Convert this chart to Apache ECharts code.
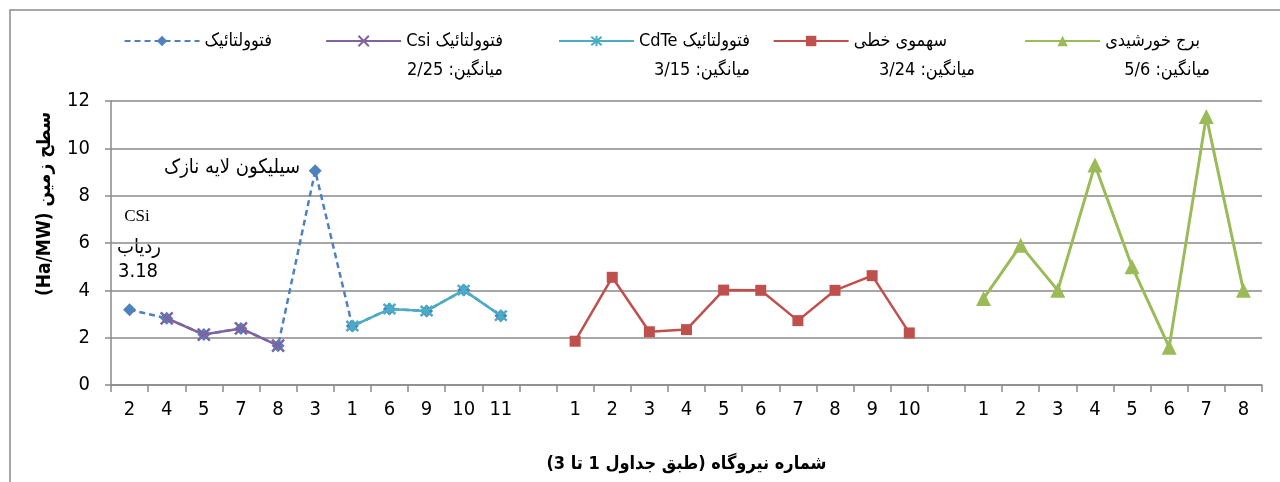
<!DOCTYPE html>
<html>
<head>
<meta charset="utf-8">
<script src="https://cdn.jsdelivr.net/npm/echarts@6/dist/echarts.min.js"></script>
<style>
  html, body { margin: 0; padding: 0; background: #fff; }
  #main { width: 1280px; height: 482px; }
</style>
</head>
<body>
<div id="main"></div>
<script>
// گروه‌ها روی محور افقی (با یک خانه خالی بین هر گروه)
const pvCats = ['2', '4', '5', '7', '8', '3', '1', '6', '9', '10', '11'];
const troughCats = ['1', '2', '3', '4', '5', '6', '7', '8', '9', '10'];
const towerCats = ['1', '2', '3', '4', '5', '6', '7', '8'];

// مقادیر سطح زمین (Ha/MW)
const pvAll = [3.18, 2.82, 2.13, 2.39, 1.66, 9.05, 2.49, 3.21, 3.13, 4.01, 2.93];
const pvCSi = [2.82, 2.13, 2.39, 1.66];      // نیروگاه‌های 4، 5، 7، 8
const pvCdTe = [2.49, 3.21, 3.13, 4.01, 2.93]; // نیروگاه‌های 1، 6، 9، 10، 11
const trough = [1.85, 4.55, 2.25, 2.34, 4.01, 4.0, 2.72, 4.0, 4.62, 2.2];
const tower = [3.65, 5.9, 4.0, 9.3, 5.0, 1.6, 11.35, 4.0];

const seriesNames = [
  'فتوولتائیک',
  'فتوولتائیک Csi',
  'فتوولتائیک CdTe',
  'سهموی خطی',
  'برج خورشیدی'
];
const means = ['2/25', '3/15', '3/24', '5/6'];

const colors = ['#4F81BD', '#8064A2', '#4BACC6', '#C0504D', '#9BBB59'];
const persianFont = '"DejaVu Sans Condensed", "DejaVu Sans", sans-serif';
const numFont = '"DejaVu Sans Condensed", "DejaVu Sans", sans-serif';

// متن راست‌به‌چپ
const rtl = (s) => '\u202B' + s + '\u202C';

const categories = [...pvCats, '', ...troughCats, '', ...towerCats];
const N = categories.length;
const troughStart = pvCats.length + 1;
const towerStart = troughStart + troughCats.length + 1;

// قرار دادن مقادیر در جای خودشان روی محور
function place(values, start) {
  const out = new Array(N).fill(null);
  values.forEach((v, i) => { out[start + i] = v; });
  return out;
}

const xPath = 'path://M0,0L10,10M10,0L0,10';
const starPath = 'path://M0,0L10,10M10,0L0,10M5,-1L5,11';

const myChart = echarts.init(document.getElementById('main'));

const legendRights = [1003, 772, 525, 328, 75];
const legends = seriesNames.map((name, i) => ({
  data: [name],
  right: legendRights[i],
  top: 27,
  itemWidth: 75,
  itemHeight: 13,
  align: 'left',
  formatter: (n) => rtl(n),
  textStyle: { fontFamily: persianFont, fontSize: 18, color: '#000' }
}));

const meanRights = [777, 530, 305, 70];

myChart.setOption({
  animation: false,
  backgroundColor: '#fff',
  legend: legends,
  grid: { left: 111, right: 18, top: 101, bottom: 97 },
  xAxis: {
    type: 'category',
    data: categories,
    boundaryGap: true,
    name: rtl('شماره نیروگاه (طبق جداول 1 تا 3)'),
    nameLocation: 'middle',
    nameGap: 70,
    nameTextStyle: { fontFamily: persianFont, fontSize: 18, fontWeight: 'bold', color: '#000' },
    axisLine: { lineStyle: { color: '#8a8a8a', width: 1.5 } },
    axisTick: { show: true, interval: 0, length: 7, lineStyle: { color: '#8a8a8a', width: 1.5 } },
    axisLabel: { interval: 0, margin: 15, fontFamily: numFont, fontSize: 20, color: '#000' }
  },
  yAxis: {
    type: 'value',
    min: 0,
    max: 12,
    interval: 2,
    axisLine: { show: true, lineStyle: { color: '#8a8a8a', width: 1.5 } },
    axisTick: { show: true, length: 6, lineStyle: { color: '#8a8a8a', width: 1.5 } },
    axisLabel: { margin: 21, fontFamily: numFont, fontSize: 20, color: '#000' },
    splitLine: { lineStyle: { color: '#8a8a8a', width: 1.5 } }
  },
  series: [
    {
      name: seriesNames[0],
      type: 'line',
      data: place(pvAll, 0),
      z: 2,
      symbol: 'diamond',
      symbolSize: 13,
      color: colors[0],
      lineStyle: { color: colors[0], width: 2.5, type: [6, 4] },
      itemStyle: { color: colors[0] }
    },
    {
      name: seriesNames[1],
      type: 'line',
      data: place(pvCSi, 1),
      z: 3,
      symbol: xPath,
      symbolSize: 12,
      color: colors[1],
      lineStyle: { color: colors[1], width: 2.5 },
      itemStyle: { color: colors[1], borderColor: colors[1], borderWidth: 2.5 }
    },
    {
      name: seriesNames[2],
      type: 'line',
      data: place(pvCdTe, 6),
      z: 3,
      symbol: starPath,
      symbolSize: 12,
      color: colors[2],
      lineStyle: { color: colors[2], width: 2.5 },
      itemStyle: { color: colors[2], borderColor: colors[2], borderWidth: 2.5 }
    },
    {
      name: seriesNames[3],
      type: 'line',
      data: place(trough, troughStart),
      z: 3,
      symbol: 'rect',
      symbolSize: 11,
      color: colors[3],
      lineStyle: { color: colors[3], width: 2.5 },
      itemStyle: { color: colors[3] }
    },
    {
      name: seriesNames[4],
      type: 'line',
      data: place(tower, towerStart),
      z: 3,
      symbol: 'triangle',
      symbolSize: 15,
      color: colors[4],
      lineStyle: { color: colors[4], width: 3 },
      itemStyle: { color: colors[4] }
    }
  ],
  graphic: [
    {
      type: 'rect',
      shape: { x: 10, y: 10, width: 1300, height: 500 },
      style: { fill: 'none', stroke: '#8a8a8a', lineWidth: 1.5 },
      silent: true
    },
    ...means.map((m, i) => ({
      type: 'text',
      right: meanRights[i],
      top: 61,
      style: { text: rtl('میانگین: ' + m), font: '18px ' + persianFont, fill: '#000' }
    })),
    {
      type: 'text',
      x: 45, y: 204,
      rotation: Math.PI / 2,
      style: { text: rtl('سطح زمین (Ha/MW)'), font: 'bold 19px ' + persianFont, fill: '#000', align: 'center', verticalAlign: 'middle' }
    },
    {
      type: 'text',
      x: 300, y: 168,
      style: { text: 'سیلیکون لایه نازک', font: '20px ' + persianFont, fill: '#000', align: 'right', verticalAlign: 'middle' }
    },
    {
      type: 'text',
      x: 137, y: 217,
      style: { text: 'CSi', font: '17px "Liberation Serif", serif', fill: '#000', align: 'center', verticalAlign: 'middle' }
    },
    {
      type: 'text',
      x: 139, y: 248,
      style: { text: 'ردیاب', font: '20px ' + persianFont, fill: '#000', align: 'center', verticalAlign: 'middle' }
    },
    {
      type: 'text',
      x: 138, y: 272,
      style: { text: '3.18', font: '20px ' + numFont, fill: '#000', align: 'center', verticalAlign: 'middle' }
    }
  ]
});
</script>
</body>
</html>
